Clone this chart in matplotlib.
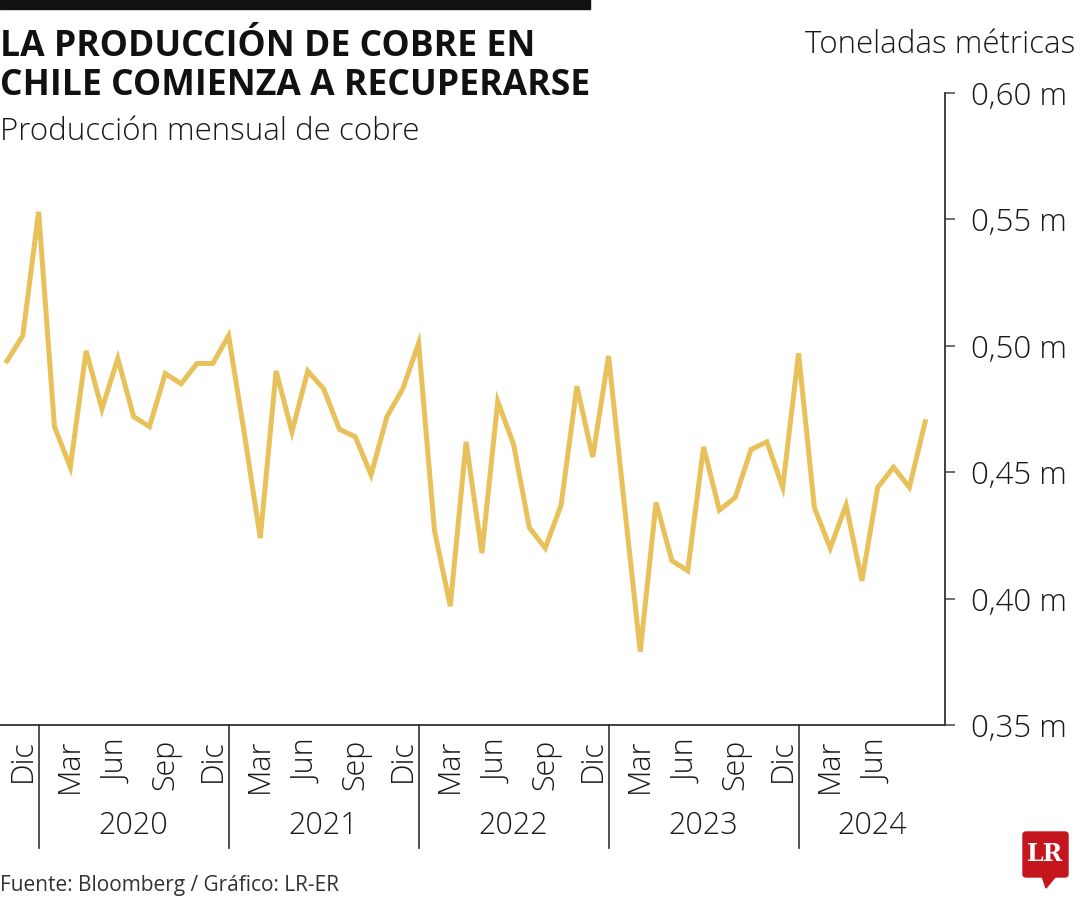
#!/usr/bin/env python3
''' Produccion mensual de cobre en Chile '''
import matplotlib
matplotlib.use('Agg')
import matplotlib.pyplot as plt
import matplotlib.patches as mpatches
import matplotlib.transforms as mtrans

# monthly production, Nov 2019 .. Sep 2024 (millions of metric tons)
months = ['Nov', 'Dic', 'Ene', 'Feb', 'Mar', 'Abr', 'May', 'Jun', 'Jul', 'Ago', 'Sep', 'Oct']
produccion = [
    0.494, 0.504,
    0.553, 0.468, 0.452, 0.498, 0.475, 0.495, 0.472, 0.468, 0.489, 0.485, 0.493, 0.493,
    0.504, 0.465, 0.424, 0.490, 0.466, 0.490, 0.483, 0.467, 0.464, 0.449, 0.472, 0.483,
    0.501, 0.427, 0.397, 0.462, 0.418, 0.478, 0.461, 0.428, 0.420, 0.437, 0.484, 0.456,
    0.496, 0.437, 0.379, 0.438, 0.415, 0.411, 0.460, 0.435, 0.440, 0.459, 0.462, 0.444,
    0.497, 0.436, 0.420, 0.437, 0.407, 0.444, 0.452, 0.444, 0.470,
]
years = ['2020', '2021', '2022', '2023', '2024']
y_ticks = [0.35, 0.40, 0.45, 0.50, 0.55, 0.60]
y_labels = ['0,35 m', '0,40 m', '0,45 m', '0,50 m', '0,55 m', '0,60 m']

LINE_COLOR = '#E8C15B'
TXT = '#1a1a1a'
plt.rcParams['font.family'] = ['Open Sans', 'DejaVu Sans']

fig = plt.figure(figsize=(10.8, 9), dpi=100)
ax = fig.add_axes([0.0, 1 - 725 / 900, 945 / 1080, 632 / 900])

x = list(range(len(produccion)))
ax.plot(x, produccion, color=LINE_COLOR, lw=3.6, solid_joinstyle='miter', clip_on=False)

ax.set_xlim(-0.44, 59.25)
ax.set_ylim(0.35, 0.60)

# y axis on the right
for s in ['top', 'left']:
    ax.spines[s].set_visible(False)
for s in ['right', 'bottom']:
    ax.spines[s].set_color('#333333')
    ax.spines[s].set_linewidth(1.3)
ax.yaxis.tick_right()
ax.set_yticks(y_ticks)
ax.set_yticklabels(y_labels, fontsize=22.5, color=TXT, fontweight='light')
ax.tick_params(axis='y', direction='out', length=7, width=1.2, color='#555555', pad=12)

# month labels every quarter, Dic 2019 .. Jun 2024
xt = [i for i in x[:-3] if months[i % 12] in ('Dic', 'Mar', 'Jun', 'Sep')]
ax.set_xticks(xt)
ax.set_xticklabels([months[i % 12] for i in xt], rotation=90, fontsize=22,
                   color=TXT, fontweight='light')
ax.tick_params(axis='x', length=0, pad=10)

# year separators and labels
trans = mtrans.blended_transform_factory(ax.transData, ax.transAxes)
jan_idx = [i for i in x if months[i % 12] == 'Ene']
bounds = jan_idx + [ax.get_xlim()[1]]
for k, yr in enumerate(years):
    ax.plot([bounds[k], bounds[k]], [0, -0.195], color='#333333', lw=1.2,
            transform=trans, clip_on=False)
    ax.text((bounds[k] + bounds[k + 1]) / 2, -0.16, yr, transform=trans,
            ha='center', va='center', fontsize=22, color=TXT, fontweight='light')

# header
fig.patches.append(mpatches.Rectangle((0, 1 - 9 / 900), 590 / 1080, 9 / 900,
                                      transform=fig.transFigure, color='#111111'))
fig.text(0.0, 1 - 47 / 900, 'LA PRODUCCIÓN DE COBRE EN', fontsize=25.6, fontweight='bold',
         color='#111111', va='center', ha='left')
fig.text(0.0, 1 - 86 / 900, 'CHILE COMIENZA A RECUPERARSE', fontsize=25.6, fontweight='bold',
         color='#111111', va='center', ha='left')
fig.text(0.0, 1 - 132 / 900, 'Producción mensual de cobre', fontsize=22.5,
         color=TXT, va='center', ha='left', fontweight='light')
fig.text(1 - 5 / 1080, 1 - 45 / 900, 'Toneladas métricas', fontsize=22.5,
         color=TXT, va='center', ha='right', fontweight='light')
fig.text(0.0, 1 - 886 / 900, 'Fuente: Bloomberg / Gráfico: LR-ER', fontsize=15,
         color='#333333', va='center', ha='left')

# LR logo
red = '#C4161C'
fig.patches.append(mpatches.FancyBboxPatch((1023 / 1080, 1 - 877 / 900), 45 / 1080, 45 / 900,
                                           boxstyle='round,pad=0,rounding_size=0.003',
                                           transform=fig.transFigure, color=red))
fig.patches.append(mpatches.Polygon([(1042 / 1080, 1 - 876 / 900), (1056 / 1080, 1 - 876 / 900),
                                     (1046 / 1080, 1 - 888 / 900)], closed=True,
                                    transform=fig.transFigure, color=red))
fig.text(1045.5 / 1080, 1 - 854 / 900, 'LR', fontsize=17, fontweight='bold', color='white',
         family='DejaVu Serif', ha='center', va='center')

fig.savefig('out.png', dpi=100, facecolor='white')
